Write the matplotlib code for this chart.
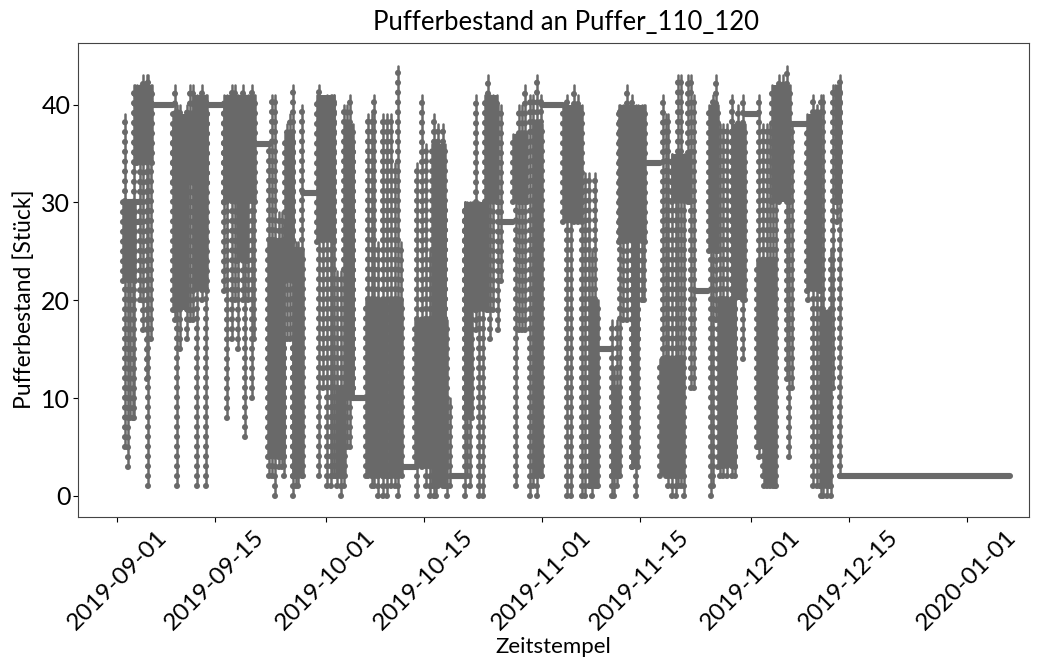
import numpy as np
import pandas as pd
import matplotlib
matplotlib.use('Agg')
import matplotlib.pyplot as plt
import matplotlib.dates as mdates

start_date = pd.Timestamp('2019-09-01')

# single fill/empty runs of the buffer: day after start, lowest and highest level
run_day = [1.15, 1.53, 1.87, 2.35, 2.49, 2.82, 3.30, 3.78, 4.26, 4.50, 4.83,
           8.33, 8.66, 9.04, 10.0, 10.48, 10.96, 11.44, 12.15, 12.78,
           15.36, 15.74, 16.46, 16.94, 17.42, 18.14, 18.37, 18.85, 19.33, 19.67,
           21.87, 22.3, 22.68, 23.25, 23.64, 24.02, 24.45, 24.83, 25.22, 25.7, 26.03, 26.56,
           29.04, 29.52, 30.14, 30.67, 30.81, 31.14, 31.62, 32.15, 32.58, 33.06, 33.44, 33.82,
           36.07, 36.55, 36.93, 37.51, 38.23, 38.70, 39.28, 39.90, 40.38, 40.71,
           43.11, 43.73, 44.35, 44.92, 45.50, 45.79, 46.12, 46.74, 47.08, 47.41, 47.8,
           49.95, 50.28, 50.67, 51.48, 51.96, 52.48, 52.82, 53.2, 53.54, 54.01, 54.73, 55.07,
           57.27, 57.7, 58.08, 58.56, 59.28, 59.76, 60.33, 60.81,
           64.54, 65.12, 65.64, 66.22, 66.7, 67.17, 67.79, 68.13, 68.56, 68.94,
           71.0, 71.33, 71.72, 72.2, 72.67, 73.15, 73.87, 74.45, 74.83, 75.3, 75.64,
           78.32, 78.8, 79.13, 79.61, 80.23, 80.57, 80.95, 81.38, 82.0, 82.39, 82.82,
           85.26, 85.59, 85.98, 86.55, 87.03, 87.6, 88.23, 88.7, 89.18, 89.8,
           92.2, 92.67, 93.25, 93.73, 94.2, 94.59, 94.97, 95.55, 96.2, 96.45, 96.93,
           99.23, 99.85, 100.43, 101.0, 101.38, 101.96, 102.44, 102.82, 103.4, 103.82]
run_low = [5, 3, 8, 8, 8, 34, 20, 17, 12, 1, 16,
           18, 1, 15, 16, 18, 18, 1, 20, 1,
           21, 8, 16, 20, 15, 20, 6, 20, 10, 16,
           2, 2, 0, 3, 3, 2, 16, 16, 0, 1, 1, 2,
           2, 11, 1, 1, 2, 2, 1, 0, 1, 5, 5, 10,
           2, 1, 1, 0, 0, 0, 1, 1, 0, 3,
           0, 3, 1, 0, 0, 0, 1, 1, 1, 0, 1,
           0, 2, 1, 17, 0, 0, 20, 19, 16, 19, 17, 22,
           1, 17, 17, 17, 0, 1, 0, 2,
           0, 0, 28, 28, 0, 0, 1, 0, 1, 1,
           0, 0, 1, 2, 18, 18, 3, 0, 16, 20, 20,
           3, 2, 1, 0, 0, 1, 1, 0, 30, 11, 11,
           0, 1, 18, 2, 2, 2, 2, 2, 22, 14,
           4, 2, 1, 1, 1, 1, 30, 32, 12, 4, 11,
           20, 1, 1, 0, 0, 0, 0, 11, 28, 2]
run_high = [39, 29, 30, 30, 42, 42, 42, 43, 43, 43, 42,
            42, 40, 40, 40, 42, 42, 41, 42, 41,
            40, 41, 42, 42, 41, 42, 41, 41, 42, 41,
            36, 41, 41, 29, 29, 28, 38, 39, 42, 26, 26, 40,
            42, 40, 41, 41, 41, 41, 23, 23, 40, 40, 41, 36,
            39, 39, 41, 26, 39, 39, 39, 34, 44, 26,
            34, 41, 36, 25, 39, 36, 38, 38, 30, 10, 10,
            30, 30, 30, 41, 30, 30, 41, 43, 41, 41, 40, 40,
            37, 40, 40, 42, 41, 41, 43, 41,
            41, 39, 42, 41, 28, 33, 33, 25, 33, 20,
            18, 13, 18, 40, 40, 42, 41, 40, 40, 40, 40,
            41, 39, 39, 35, 35, 43, 43, 35, 43, 43, 41,
            40, 41, 43, 38, 38, 38, 41, 38, 40, 41,
            41, 38, 38, 38, 33, 33, 43, 43, 44, 33, 38,
            38, 41, 40, 41, 41, 19, 25, 42, 42, 43]

# stretches where the runs are so dense that they merge into one block
dense_start = [0.91, 2.6, 8.1, 8.1, 10.9, 15.3, 17.2, 21.7, 24.1, 25.3, 28.7,
               31.5, 32.7, 35.8, 39.1, 42.8, 45.2, 49.95, 49.95, 53.0, 56.9, 59.76, 64.06,
               67.9, 71.0, 72.0, 73.9, 77.9, 79.6, 84.9, 86.3, 88.2,
               91.8, 92.8, 94.0, 99.0, 100.9, 103.0]
dense_end = [2.6, 4.98, 12.9, 10.2, 12.9, 19.8, 18.6, 23.9, 25.3, 26.7, 31.1,
             32.7, 33.9, 38.7, 40.9, 47.3, 47.1, 53.05, 50.9, 54.5, 58.8, 60.95, 66.7,
             69.1, 72.0, 75.8, 74.8, 81.3, 82.2, 86.3, 88.7, 90.1,
             93.2, 94.4, 96.6, 100.9, 102.3, 103.8]
dense_low = [22, 34, 32, 19, 21, 30, 24, 4, 22, 2, 26,
             2, 10, 2, 2, 3, 1, 19, 8, 30, 30, 2, 28,
             1, 2, 26, 3, 2, 30, 25, 3, 20,
             5, 1, 30, 21, 1, 30]
dense_high = [30, 42, 39, 38, 41, 41, 30, 26, 37, 25, 41,
              11, 38, 20, 20, 18, 36, 30, 30, 41, 37, 38, 40,
              20, 11, 40, 26, 14, 35, 40, 20, 38,
              24, 24, 42, 39, 19, 42]

# times where the level does not change
flat_start = [1.39, 2.6, 4.98, 12.87, 19.81, 26.75, 33.92, 40.86, 48.03, 54.97, 60.95,
              69.09, 76.02, 82.96, 90.14, 96.84, 103.78]
flat_end = [3.3, 3.5, 8.09, 15.26, 21.96, 28.9, 35.83, 42.77, 49.95, 56.89, 64.06,
            71.0, 77.94, 84.87, 92.05, 99.0, 128.2]
flat_level = [30, 28, 40, 40, 36, 31, 10, 3, 2, 28, 40, 15, 34, 21, 39, 38, 2]

tick_dates = ['2019-09-01', '2019-09-15', '2019-10-01', '2019-10-15', '2019-11-01',
              '2019-11-15', '2019-12-01', '2019-12-15', '2020-01-01']

grey = '#696969'
plt.rcParams['font.family'] = ['Lato', 'DejaVu Sans']


def to_dates(days):
    return start_date + pd.to_timedelta(np.asarray(days, dtype=float), unit='D')


def draw_run(ax, d, lo, hi):
    # thin line plus a round dot at every whole level
    ax.plot([d, d], [lo, hi], color=grey, lw=1.8, solid_capstyle='round', zorder=2)
    ax.plot([d, d], [lo, hi], color=grey, lw=4.4, linestyle=(0, (0.01, 1.6)),
            dash_capstyle='round', zorder=2)


fig = plt.figure(figsize=(10.43, 6.64), dpi=100)
ax = fig.add_axes([78 / 1043, 1 - 517 / 664, (1029 - 78) / 1043, (517 - 43) / 664])

for d, lo, hi in zip(to_dates(run_day), run_low, run_high):
    draw_run(ax, d, lo, hi)

for s, e, lo, hi in zip(to_dates(dense_start), to_dates(dense_end), dense_low, dense_high):
    ax.fill_between([s, e], lo, hi, color=grey, lw=0, zorder=2)
    draw_run(ax, s, lo, hi)
    draw_run(ax, e, lo, hi)

for s, e, lev in zip(to_dates(flat_start), to_dates(flat_end), flat_level):
    ax.plot([s, e], [lev, lev], color=grey, lw=4.4, solid_capstyle='round', zorder=2)

ax.set_xlim(start_date - pd.Timedelta(days=5.6), start_date + pd.Timedelta(days=130.9))
ax.set_ylim(-2.15, 46.3)
ax.set_yticks([0, 10, 20, 30, 40])
ax.set_xticks(pd.to_datetime(tick_dates))
ax.xaxis.set_major_formatter(mdates.DateFormatter('%Y-%m-%d'))
ax.tick_params(axis='x', labelsize=17.5, labelrotation=45)
ax.tick_params(axis='y', labelsize=18, pad=2)
for lab in ax.get_xticklabels():
    lab.set_ha('center')
for sp in ax.spines.values():
    sp.set_linewidth(0.8)
    sp.set_color('#444444')

ax.set_title('Pufferbestand an Puffer_110_120', fontsize=18.5, x=0.513, pad=9)
ax.set_xlabel('Zeitstempel', fontsize=16)
ax.set_ylabel('Pufferbestand [Stück]', fontsize=16.5)
ax.xaxis.set_label_coords(0.5, -0.253)
ax.yaxis.set_label_coords(-0.045, 0.46)

fig.savefig('out.png', dpi=100)
